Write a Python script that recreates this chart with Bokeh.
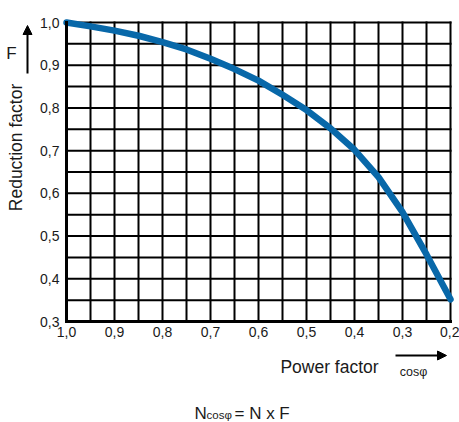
import numpy as np
from bokeh.plotting import figure
from bokeh.models import (Range1d, FixedTicker, CustomJSTickFormatter, Label, Arrow, NormalHead, LinearAxis)
from bokeh.embed import file_html
from bokeh.resources import INLINE

# data
cos_phi = [1.0, 0.95, 0.9, 0.85, 0.8, 0.75, 0.7, 0.65, 0.6, 0.55, 0.5, 0.45, 0.4, 0.35, 0.3, 0.25, 0.2]
factor_F = [1.0, 0.991, 0.981, 0.969, 0.954, 0.937, 0.915, 0.891, 0.864, 0.831, 0.795, 0.752, 0.702, 0.638, 0.556, 0.457, 0.352]
x_ticks = [1.0, 0.9, 0.8, 0.7, 0.6, 0.5, 0.4, 0.3, 0.2]
y_ticks = [0.3, 0.4, 0.5, 0.6, 0.7, 0.8, 0.9, 1.0]
grid_x = [1.0, 0.95, 0.9, 0.85, 0.8, 0.75, 0.7, 0.65, 0.6, 0.55, 0.5, 0.45, 0.4, 0.35, 0.3, 0.25, 0.2]
grid_y = [0.3, 0.35, 0.4, 0.45, 0.5, 0.55, 0.6, 0.65, 0.7, 0.75, 0.8, 0.85, 0.9, 0.95, 1.0]
x_label = "Power factor"
y_label = "Reduction factor"
y_symbol = "F"
x_symbol = "cos\u03c6"
formula = ["N", "cos\u03c6", "= N x F"]

FONT = "Liberation Sans"
TXT = "#1a1a1a"

W, H = 459, 422
# pixel geometry of the grid area on the canvas
L, R, T, B = 66, 450, 22, 321
x0, x1 = max(x_ticks), min(x_ticks)
y0, y1 = min(y_ticks), max(y_ticks)
sx = (x0 - x1) / (R - L)
sy = (y1 - y0) / (B - T)

p = figure(width=W, height=H, output_backend="svg", toolbar_location=None,
           x_range=Range1d(x0 + L * sx, x1 - (W - R) * sx),
           y_range=Range1d(y0 - (H - B) * sy, y1 + T * sy),
           x_axis_type=None, y_axis_type=None,
           min_border=0, min_border_left=0, min_border_right=0, min_border_top=0, min_border_bottom=0)
p.background_fill_color = "white"
p.border_fill_color = "white"
p.outline_line_color = None
p.xgrid.visible = False
p.ygrid.visible = False

# grid lines
p.segment(x0=grid_x, y0=[y0] * len(grid_x), x1=grid_x, y1=[y1] * len(grid_x),
          line_color="black", line_width=2, line_cap="square")
p.segment(x0=[x0] * len(grid_y), y0=grid_y, x1=[x1] * len(grid_y), y1=grid_y,
          line_color="black", line_width=2, line_cap="square")

fmt = CustomJSTickFormatter(code="return tick.toFixed(1).replace('.', ',');")
xaxis = LinearAxis(ticker=FixedTicker(ticks=x_ticks), formatter=fmt, fixed_location=y0, bounds=(x1, x0))
yaxis = LinearAxis(ticker=FixedTicker(ticks=y_ticks), formatter=fmt, fixed_location=x0, bounds=(y0, y1))
for ax in (xaxis, yaxis):
    ax.axis_line_color = "black"
    ax.axis_line_width = 3
    ax.axis_line_cap = "square"
    ax.major_tick_line_color = None
    ax.minor_tick_line_color = None
    ax.major_tick_out = 0
    ax.major_tick_in = 0
    ax.major_label_text_font = FONT
    ax.major_label_text_font_size = "14px"
    ax.major_label_text_color = TXT
xaxis.major_label_standoff = 5
yaxis.major_label_standoff = 7
p.add_layout(xaxis, "below")
p.add_layout(yaxis, "left")

p.line(cos_phi, factor_F, line_width=6.5, line_color="#0868a9", line_cap="round", line_join="round")

def xd(px):
    return x0 - (px - L) * sx

def yd(py):
    return y1 - (py - T) * sy

p.add_layout(Label(x=xd(15), y=yd(147), text=y_label, angle=np.pi / 2, text_align="center",
                   text_baseline="middle", text_font=FONT, text_font_size="17.5px", text_color=TXT))
p.add_layout(Label(x=xd(11), y=yd(53), text=y_symbol, text_align="center", text_baseline="middle",
                   text_font=FONT, text_font_size="17px", text_color=TXT))
p.add_layout(Arrow(x_start=xd(27), y_start=yd(73), x_end=xd(27), y_end=yd(25), line_width=2,
                   line_color="black",
                   end=NormalHead(size=9, fill_color="black", line_color="black")))
p.add_layout(Label(x=xd(329), y=yd(366), text=x_label, text_align="center", text_baseline="middle",
                   text_font=FONT, text_font_size="17.5px", text_color=TXT))
p.add_layout(Arrow(x_start=xd(395), y_start=yd(355), x_end=xd(446), y_end=yd(355), line_width=2,
                   line_color="black",
                   end=NormalHead(size=9, fill_color="black", line_color="black")))
p.add_layout(Label(x=xd(413), y=yd(371), text=x_symbol, text_align="center", text_baseline="middle",
                   text_font=FONT, text_font_size="12.5px", text_color=TXT))
p.add_layout(Label(x=xd(194), y=yd(413), text=formula[0], text_align="left", text_baseline="alphabetic",
                   text_font=FONT, text_font_size="17px", text_color=TXT))
p.add_layout(Label(x=xd(206), y=yd(414), text=formula[1], text_align="left", text_baseline="alphabetic",
                   text_font=FONT, text_font_size="11.5px", text_color=TXT))
p.add_layout(Label(x=xd(234), y=yd(413), text=formula[2], text_align="left", text_baseline="alphabetic",
                   text_font=FONT, text_font_size="17px", text_color=TXT))

open("out.html", "w").write(file_html(p, INLINE))
